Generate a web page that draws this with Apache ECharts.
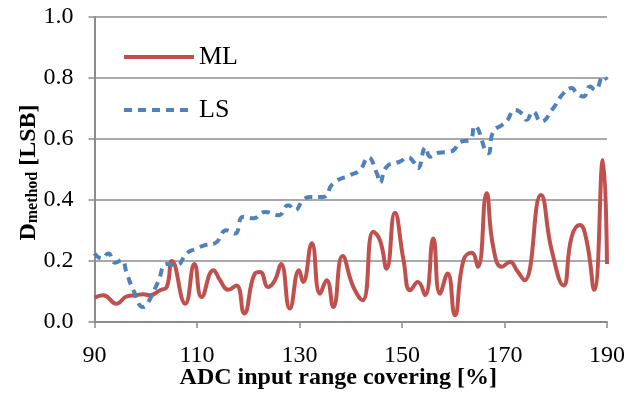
<!DOCTYPE html>
<html>
<head>
<meta charset="utf-8">
<script src="https://cdn.jsdelivr.net/npm/echarts@6/dist/echarts.min.js"></script>
<style>
  html, body { margin: 0; padding: 0; background: #fff; }
  #chart { width: 630px; height: 394px; }
</style>
</head>
<body>
<div id="chart"></div>
<script>
// ML 曲线
var mlX = [90, 91.7, 94.3, 96.3, 98.2, 99.5, 100.8, 102.8, 104.1, 105.1, 107.7, 109.5, 110.9, 113.2, 114.5, 116.1, 117.7, 119.2, 121.3, 122.3, 123.9, 125.2, 126.4, 128.1, 129.9, 130.7, 132.4, 134, 135.3, 136.6, 138.4, 140.5, 142.3, 144.4, 145.7, 147, 148.6, 150.3, 151.6, 153.1, 154.5, 156.1, 157.4, 158.9, 160.3, 162, 163.6, 164.8, 166.5, 167.8, 169.5, 171.1, 172.4, 173.9, 177.1, 179.2, 181.5, 183.1, 184.7, 186, 187.5, 189.2, 190];
var mlY = [0.08, 0.088, 0.06, 0.084, 0.088, 0.091, 0.088, 0.104, 0.115, 0.2, 0.06, 0.19, 0.082, 0.17, 0.137, 0.106, 0.12, 0.028, 0.159, 0.164, 0.115, 0.137, 0.19, 0.044, 0.17, 0.131, 0.258, 0.093, 0.137, 0.049, 0.216, 0.115, 0.071, 0.296, 0.268, 0.175, 0.358, 0.203, 0.104, 0.131, 0.088, 0.274, 0.093, 0.159, 0.022, 0.203, 0.227, 0.181, 0.422, 0.246, 0.181, 0.197, 0.17, 0.137, 0.416, 0.236, 0.12, 0.279, 0.318, 0.268, 0.106, 0.531, 0.19];
// LS 曲线
var lsX = [90, 91.4, 92.7, 94, 95.3, 96.3, 97.6, 99.5, 100.5, 102.4, 104.1, 106, 108, 109.8, 111.6, 113.5, 115.8, 117.4, 119, 121, 123.3, 125.9, 127.8, 129.1, 130.7, 132, 134.6, 136.6, 139.9, 141.8, 143.4, 145.1, 145.7, 147, 149.6, 151.2, 152.2, 153.1, 154.6, 155.5, 157.1, 159.4, 161.6, 163.3, 164.2, 166.8, 167.8, 169.5, 170.5, 172, 173.7, 174.3, 175.6, 177.1, 179.5, 181.5, 183.1, 184.1, 185.4, 186.7, 187.7, 189.3, 190];
var lsY = [0.225, 0.208, 0.225, 0.194, 0.203, 0.159, 0.104, 0.049, 0.066, 0.131, 0.19, 0.186, 0.225, 0.24, 0.252, 0.258, 0.301, 0.29, 0.345, 0.34, 0.361, 0.35, 0.383, 0.367, 0.4, 0.41, 0.41, 0.455, 0.482, 0.498, 0.54, 0.487, 0.457, 0.509, 0.526, 0.54, 0.526, 0.504, 0.573, 0.542, 0.555, 0.558, 0.591, 0.597, 0.643, 0.553, 0.624, 0.646, 0.66, 0.695, 0.679, 0.663, 0.69, 0.657, 0.701, 0.75, 0.767, 0.75, 0.739, 0.772, 0.761, 0.805, 0.794];

var xTicks = [90, 190, 20];
var yTicks = [0, 1, 0.2];

function pairs(xs, ys) {
  return xs.map(function (x, i) { return [x, ys[i]] })
}

var font = 'Liberation Serif, Times New Roman, serif'
var chart = echarts.init(document.getElementById('chart'))
chart.setOption({
  backgroundColor: '#fff',
  animation: false,
  grid: { left: 94.5, right: 23, top: 17, bottom: 72, outerBoundsMode: 'none' },
  legend: {
    orient: 'vertical',
    left: 122,
    top: 44,
    padding: 0,
    itemWidth: 70,
    itemHeight: 14,
    itemGap: 27,
    itemStyle: { opacity: 0 },
    lineStyle: { width: 4 },
    textStyle: { fontFamily: font, fontSize: 26, color: '#000' },
    data: ['ML', 'LS']
  },
  xAxis: {
    type: 'value',
    min: xTicks[0],
    max: xTicks[1],
    interval: xTicks[2],
    name: 'ADC input range covering [%]',
    nameLocation: 'middle',
    nameGap: 44,
    nameMoveOverlap: false,
    nameTextStyle: { fontFamily: font, fontSize: 24, fontWeight: 'bold', color: '#000', padding: [0, 25, 0, 0] },
    axisLine: { lineStyle: { color: '#8c8c8c', width: 2 } },
    axisTick: { show: true, length: 6, lineStyle: { color: '#8c8c8c', width: 1.5 } },
    axisLabel: { fontFamily: font, fontSize: 24, color: '#000', margin: 22 },
    splitLine: { show: false }
  },
  yAxis: {
    type: 'value',
    min: yTicks[0],
    max: yTicks[1],
    interval: yTicks[2],
    name: '{b|D}{s|method}{b| [LSB]}',
    nameLocation: 'middle',
    nameRotate: 90,
    nameGap: 54,
    nameMoveOverlap: false,
    nameTextStyle: {
      padding: [0, 6, 0, 0],
      rich: {
        b: { fontFamily: font, fontSize: 24, fontWeight: 'bold', color: '#000', verticalAlign: 'bottom' },
        s: { fontFamily: font, fontSize: 16, fontWeight: 'bold', color: '#000', verticalAlign: 'bottom' }
      }
    },
    axisLine: { show: true, lineStyle: { color: '#8c8c8c', width: 2 } },
    axisTick: { show: true, length: 6, lineStyle: { color: '#8c8c8c', width: 1.5 } },
    axisLabel: {
      fontFamily: font, fontSize: 24, color: '#000', margin: 21,
      formatter: function (v) { return v.toFixed(1) }
    },
    splitLine: { lineStyle: { color: '#8c8c8c', width: 1.5 } }
  },
  series: [
    {
      name: 'ML',
      type: 'line',
      smooth: 0.5,
      symbol: 'none',
      lineStyle: { color: '#c0504d', width: 4 },
      itemStyle: { color: '#c0504d' },
      data: pairs(mlX, mlY)
    },
    {
      name: 'LS',
      type: 'line',
      smooth: 0.5,
      symbol: 'none',
      lineStyle: { color: '#4f81bd', width: 4, type: [8, 6] },
      itemStyle: { color: '#4f81bd' },
      data: pairs(lsX, lsY)
    }
  ]
})
</script>
</body>
</html>
